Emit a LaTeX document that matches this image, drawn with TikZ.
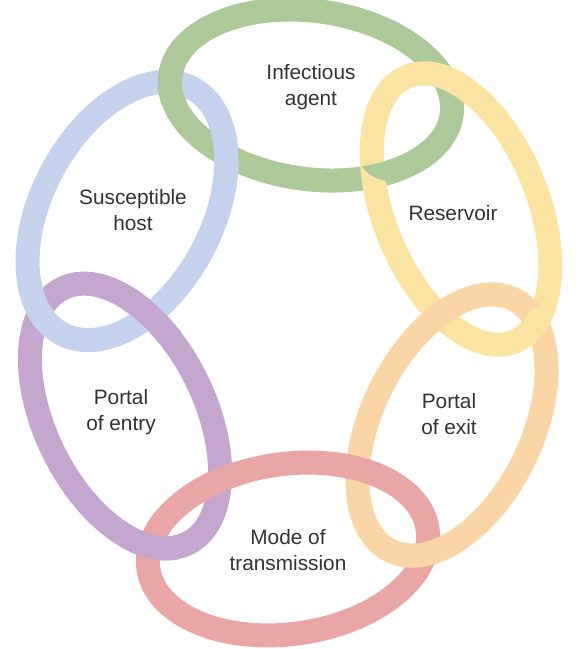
\documentclass[tikz,border=0pt]{standalone}
\usepackage{fontspec}
\setmainfont{Liberation Sans}
\begin{document}
\begin{tikzpicture}[x=1pt,y=-1pt,
  ring/.style={line width=24pt},
  lbl/.style={text=black!80, font=\fontsize{20.8}{26.5}\selectfont, align=center}]
\definecolor{cgreen}{RGB}{172,201,153}
\definecolor{cyellow}{RGB}{251,228,162}
\definecolor{corange}{RGB}{250,213,165}
\definecolor{cred}{RGB}{234,166,164}
\definecolor{cpurple}{RGB}{197,166,206}
\definecolor{cblue}{RGB}{197,210,238}
\useasboundingbox[fill=white] (0,0) rectangle (579,649);
% ring definitions
\def\ringG{\draw[ring,cgreen,rotate around={-8:(311,95)}] (311,95) ellipse [x radius=142,y radius=84];}
\def\ringY{\draw[ring,cyellow,rotate around={22:(461,209)}] (461,209) ellipse [x radius=77,y radius=143];}
\def\ringO{\draw[ring,corange,rotate around={-26:(452,425)}] (452,425) ellipse [x radius=80,y radius=140];}
\def\ringR{\draw[ring,cred,rotate around={8:(288,549)}] (288,549) ellipse [x radius=141,y radius=85];}
\def\ringP{\draw[ring,cpurple,rotate around={26:(125,416)}] (125,416) ellipse [x radius=80,y radius=142];}
\def\ringB{\draw[ring,cblue,rotate around={-28:(127,211)}] (127,211) ellipse [x radius=85,y radius=139];}
\ringG \ringY \ringO \ringR \ringP \ringB
% over-crossings
\def\over#1#2#3{\begin{scope}\clip (#1,#2) circle (34); #3 \end{scope}}
\over{452}{83}{\ringY}
\over{390}{147}{\ringG}
\over{172}{73}{\ringG}
\over{227}{157}{\ringB}
\over{30}{310}{\ringB}
\over{157}{310}{\ringP}
\over{213}{490}{\ringR}
\over{153}{537}{\ringP}
\over{365}{473}{\ringR}
\over{423}{540}{\ringO}
\over{420}{310}{\ringO}
\over{545}{340}{\ringY}
% labels
\node[lbl] (g) at (311,87) {Infectious\\agent};
\node[lbl] (y) at (453,213) {Reservoir};
\node[lbl] (o) at (449,414) {Portal\\of exit};
\node[lbl] (r) at (288,550) {Mode of\\transmission};
\node[lbl] (p) at (121,412) {Portal\\of entry};
\node[lbl] (b) at (133,210) {Susceptible\\host};
\end{tikzpicture}
\end{document}
